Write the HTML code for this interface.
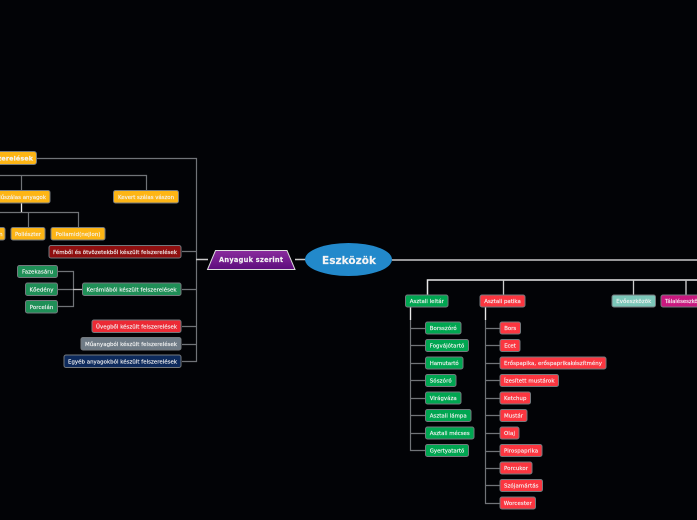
<!DOCTYPE html>
<html><head><meta charset="utf-8"><style>
html,body{margin:0;padding:0;background:#020306;width:697px;height:520px;overflow:hidden}
svg{display:block}
text{font-family:"DejaVu Sans","Liberation Sans",sans-serif;font-size:5.4px;fill:#f4f4f4;stroke:#f4f4f4;stroke-width:.14;text-anchor:middle}
.n rect{stroke:#74797d;stroke-width:1}
.o rect{fill:#fdb515}.g rect{fill:#00a651}.r rect{fill:#fb3640}.k rect{fill:#1f8f57}
</style></head><body>
<svg width="697" height="520" viewBox="0 0 697 520" xmlns="http://www.w3.org/2000/svg">
<defs><linearGradient id="p" x1="0" y1="0" x2="0" y2="1"><stop offset="0" stop-color="#8a2c9e"/><stop offset="1" stop-color="#5d0c7c"/></linearGradient></defs>
<g fill="none" stroke="#707377" stroke-width="1.200">
<path d="M37 158.500H196.500V361.500H182M182 251.500H196.500M182 289.500H196.500M182 326.500H196.500M182 344.500H196.500"/>
<path d="M0 175.500H146.500V190M21.500 175.500V190"/>
<path d="M0 212.500H78.500V227M28.500 212.500V227"/>
<path d="M57 271.500H73.500V306.500H57M57 289.500H73"/>
<path d="M410.500 307V450.500H425M410.500 328.500H425M410.500 345.500H425M410.500 363.500H425M410.500 380.500H425M410.500 398.500H425M410.500 415.500H425M410.500 433.500H425"/>
<path d="M485.500 307V503.500H500M485.500 328.500H500M485.500 345.500H500M485.500 363.500H500M485.500 380.500H500M485.500 398.500H500M485.500 415.500H500M485.500 433.500H500M485.500 451.500H500M485.500 468.500H500M485.500 485.500H500"/>
</g>
<g fill="none" stroke="#e8e8e8" stroke-width="1.300">
<path d="M21.500 203V212"/><path d="M73 289.500H82" stroke="#bbb"/>
<path d="M196 259.500H208M295 259.500H306M392 260H697" stroke="#c8c8c8" stroke-width="1.500"/>
<path d="M427.500 295V280H697" stroke-width="1.500"/><path d="M503.500 280V295" stroke="#ccc"/><path d="M633.500 280V295" stroke="#ccc"/><path d="M686 280V295" stroke="#bbb" stroke-width="1.500"/>
<path d="M410.500 307V320"/><path d="M485.500 307V320"/>
</g>

<polygon points="215.500,250.500 287,250.500 295,269.500 207.500,269.500" fill="url(#p)" stroke="#ddd" stroke-width="1"/>
<text x="251" y="262.200" style="font-size:6.600px;font-weight:bold" textLength="64">Anyaguk szerint</text>
<ellipse cx="348.500" cy="259.500" rx="43.500" ry="16.500" fill="#2289cb"/>
<text x="349" y="264.200" style="font-size:10.500px;font-weight:bold" textLength="54">Eszközök</text>

<g class="n o">
<rect x="-40" y="151.500" width="76.500" height="13" rx="2.500"/><text x="-16" y="160.700" style="font-size:6.400px;font-weight:bold;text-anchor:start" textLength="49">felszerelések</text>
<rect x="-40" y="190.500" width="90" height="12.500" rx="2"/><text x="-4" y="198.800" style="text-anchor:start" textLength="50">Műszálas anyagok</text>
<rect x="113.500" y="190.500" width="65" height="12.500" rx="2"/><text x="146" y="198.800" textLength="56">Kevert szálas vászon</text>
<rect x="-20" y="227.500" width="25" height="12.500" rx="2"/><text x="2.500" y="235.800" style="text-anchor:end">Akrilán</text>
<rect x="11" y="227.500" width="34" height="12.500" rx="2"/><text x="28" y="235.800" textLength="26">Poliészter</text>
<rect x="51" y="227.500" width="54" height="12.500" rx="2"/><text x="78" y="235.800" textLength="45">Poliamid(nejlon)</text>
</g>

<g class="n">
<rect x="49" y="245.500" width="132" height="12.500" rx="2" fill="#8f0f0f"/><text x="115" y="253.800" textLength="124">Fémből és ötvözetekből készült felszerelések</text>
<rect x="82.500" y="283" width="98.500" height="12.500" rx="2" fill="#1f8f57"/><text x="131.500" y="291.300" textLength="90">Kerámiából készült felszerelések</text>
<rect x="92" y="320" width="89" height="12.500" rx="2" fill="#ec2a35"/><text x="136.500" y="328.300" textLength="81">Üvegből készült felszerelések</text>
<rect x="81" y="337.500" width="100" height="12.500" rx="2" fill="#6f7b86"/><text x="131" y="345.800" textLength="92">Műanyagból készült felszerelések</text>
<rect x="64" y="355" width="117" height="12.500" rx="2" fill="#0d2a5c"/><text x="122.500" y="363.300" textLength="109">Egyéb anyagokból készült felszerelések</text>
<rect x="17.500" y="265.500" width="40" height="12" rx="2" fill="#1f8f57"/><text x="37.500" y="273.500" textLength="31">Fazekasáru</text>
<rect x="25.500" y="283" width="32" height="12.500" rx="2" fill="#1f8f57"/><text x="41.500" y="291.300" textLength="24">Kőedény</text>
<rect x="25.500" y="300.500" width="32" height="12.500" rx="2" fill="#1f8f57"/><text x="41.500" y="308.800" textLength="23.500">Porcelán</text>
<rect x="612" y="295" width="43.500" height="12" rx="2" fill="#7cc7b9"/><text x="633.800" y="303" textLength="35">Evőeszközök</text>
<rect x="661" y="295" width="60" height="12" rx="2" fill="#c9187f"/><text x="665" y="303" style="text-anchor:start" textLength="42">Tálaléseszközök</text>
</g>

<g class="n g">
<rect x="405.500" y="295" width="42.500" height="12" rx="2"/><text x="426.800" y="303" textLength="34">Asztali leltár</text>
<rect x="425.500" y="322" width="35.500" height="12" rx="2"/><text x="443.200" y="330" textLength="27">Borsszóró</text>
<rect x="425.500" y="339.500" width="43" height="12" rx="2"/><text x="447" y="347.500" textLength="34.500">Fogvájótartó</text>
<rect x="425.500" y="357" width="37.500" height="12" rx="2"/><text x="444.200" y="365" textLength="29">Hamutartó</text>
<rect x="425.500" y="374.500" width="30.500" height="12" rx="2"/><text x="440.700" y="382.500" textLength="22">Sószóró</text>
<rect x="425.500" y="392" width="35.500" height="12" rx="2"/><text x="443.200" y="400" textLength="27">Virágváza</text>
<rect x="425.500" y="409.500" width="45.500" height="12" rx="2"/><text x="448.200" y="417.500" textLength="37">Asztali lámpa</text>
<rect x="425.500" y="427" width="48.500" height="12" rx="2"/><text x="449.700" y="435" textLength="40">Asztali mécses</text>
<rect x="425.500" y="444.500" width="43" height="12" rx="2"/><text x="447" y="452.500" textLength="34.500">Gyertyatartó</text>
</g>

<g class="n r">
<rect x="480" y="295" width="45" height="12" rx="2"/><text x="502.500" y="303" textLength="36.500">Asztali patika</text>
<rect x="500" y="322" width="20.500" height="12" rx="2"/><text x="510.200" y="330" textLength="12">Bors</text>
<rect x="500" y="339.500" width="20" height="12" rx="2"/><text x="510" y="347.500" textLength="11.500">Ecet</text>
<rect x="500" y="357" width="106" height="12" rx="2"/><text x="553" y="365" textLength="98">Erőspapika, erőspaprikakészítmény</text>
<rect x="500" y="374.500" width="58.500" height="12" rx="2"/><text x="529.200" y="382.500" textLength="50.500">Ízesített mustárok</text>
<rect x="500" y="392" width="30.500" height="12" rx="2"/><text x="515.200" y="400" textLength="22.500">Ketchup</text>
<rect x="500" y="409.500" width="27" height="12" rx="2"/><text x="513.500" y="417.500" textLength="19">Mustár</text>
<rect x="500" y="427" width="19" height="12" rx="2"/><text x="509.500" y="435" textLength="11">Olaj</text>
<rect x="500" y="444.500" width="42" height="12" rx="2"/><text x="521" y="452.500" textLength="34">Pirospaprika</text>
<rect x="500" y="462" width="32" height="12" rx="2"/><text x="516" y="470" textLength="24">Porcukor</text>
<rect x="500" y="479.500" width="42.500" height="12" rx="2"/><text x="521.200" y="487.500" textLength="34.500">Szójamártás</text>
<rect x="500" y="497" width="35.500" height="12" rx="2"/><text x="517.700" y="505" textLength="28">Worcester</text>
</g>
</svg>
</body></html>
